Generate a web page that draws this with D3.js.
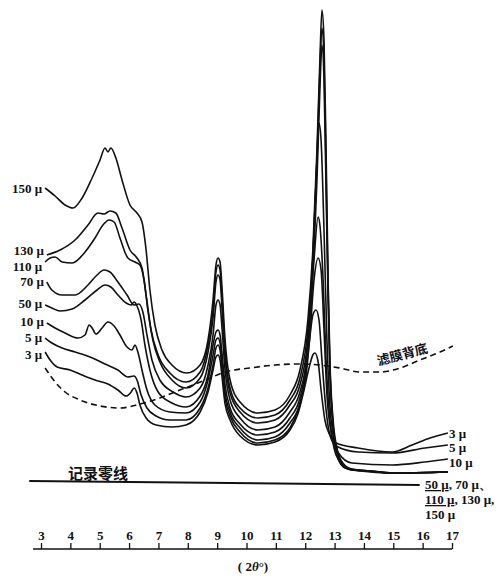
<!DOCTYPE html>
<html>
<head>
<meta charset="utf-8">
<script src="https://d3js.org/d3.v7.min.js"></script>
<style>
  body { margin: 0; background: #fff; }
  .curve { fill: none; stroke: #111; stroke-width: 1.6px; }
  .bg { fill: none; stroke: #111; stroke-width: 1.6px; stroke-dasharray: 6,4; }
  .lbl { font-family: "Liberation Serif", "DejaVu Serif", serif; font-size: 13px; font-weight: bold; fill: #111; }
  .cjk { font-family: "Noto Sans CJK SC", sans-serif; font-weight: bold; fill: #111; }
</style>
</head>
<body>
<script>
// 2theta ticks
const ticks = [3, 4, 5, 6, 7, 8, 9, 10, 11, 12, 13, 14, 15, 16, 17];

// traces: [2theta, relative intensity above the zero line]
const s150 = [[3.14,295],[3.48,287],[3.82,278],[4.09,275],[4.40,285],[4.74,305],[5.01,323],[5.18,335],[5.28,331],[5.38,335],[5.55,325],[5.76,303],[6.03,278],[6.27,270],[6.44,261],[6.58,233],[6.71,193],[6.88,158],[7.12,133],[7.46,118],[7.97,110],[8.42,118],[8.69,143],[8.86,183],[8.96,218],[9.03,225],[9.10,221],[9.17,193],[9.27,143],[9.44,103],[9.78,81],[10.39,70],[10.97,73],[11.48,88],[11.82,113],[12.09,163],[12.26,233],[12.40,333],[12.50,423],[12.57,473],[12.64,443],[12.71,333],[12.78,203],[12.84,123],[12.95,63],[13.08,35],[13.28,20],[13.59,14],[14.21,12],[14.96,10],[16.86,11]];
const s130 = [[3.20,228],[3.65,233],[4.16,243],[4.60,258],[4.94,270],[5.15,269],[5.35,272],[5.55,270],[5.76,255],[6.03,233],[6.27,225],[6.44,215],[6.58,188],[6.75,153],[6.99,128],[7.39,110],[7.94,101],[8.42,111],[8.69,138],[8.86,173],[8.96,211],[9.03,218],[9.10,213],[9.17,183],[9.27,133],[9.44,95],[9.78,75],[10.39,65],[10.97,68],[11.48,83],[11.82,105],[12.09,153],[12.26,223],[12.40,323],[12.50,413],[12.57,455],[12.64,423],[12.71,313],[12.78,193],[12.84,118],[12.95,58],[13.08,33],[13.28,18],[13.59,13],[14.21,12],[14.96,10],[16.86,11]];
const s110 = [[3.14,221],[3.31,225],[3.48,226],[3.72,221],[4.06,220],[4.50,231],[4.84,245],[5.11,258],[5.32,263],[5.49,261],[5.69,245],[5.96,225],[6.20,221],[6.37,218],[6.51,203],[6.64,173],[6.81,143],[7.05,121],[7.46,103],[7.94,95],[8.42,105],[8.69,131],[8.86,165],[8.96,201],[9.03,208],[9.10,203],[9.17,173],[9.27,125],[9.44,90],[9.78,71],[10.39,60],[10.97,63],[11.48,78],[11.82,98],[12.09,143],[12.26,213],[12.40,303],[12.50,393],[12.57,438],[12.64,403],[12.71,293],[12.78,183],[12.84,113],[12.95,55],[13.08,31],[13.28,17],[13.59,13],[14.21,12],[14.96,10],[16.86,11]];
const s70 = [[3.20,201],[3.37,193],[3.72,188],[4.16,188],[4.60,198],[4.91,208],[5.15,213],[5.35,211],[5.62,201],[5.93,188],[6.17,178],[6.33,179],[6.47,171],[6.61,148],[6.78,123],[7.05,103],[7.50,91],[7.94,86],[8.42,95],[8.69,118],[8.86,148],[8.96,178],[9.03,183],[9.10,178],[9.17,153],[9.27,113],[9.44,83],[9.78,65],[10.39,53],[10.97,56],[11.48,71],[11.82,91],[12.06,128],[12.20,183],[12.30,253],[12.40,323],[12.47,360],[12.54,343],[12.64,253],[12.74,143],[12.84,78],[12.98,43],[13.11,25],[13.36,15],[13.80,13],[14.96,10],[16.86,11]];
const s50 = [[3.14,178],[3.37,175],[3.65,172],[4.06,174],[4.50,183],[4.91,193],[5.18,198],[5.38,196],[5.62,188],[5.90,180],[6.07,178],[6.17,181],[6.27,177],[6.41,163],[6.54,138],[6.71,113],[6.99,91],[7.46,80],[7.94,76],[8.42,87],[8.69,108],[8.86,138],[8.96,151],[9.03,153],[9.10,148],[9.17,128],[9.27,98],[9.44,75],[9.78,59],[10.39,48],[10.97,51],[11.48,65],[11.82,85],[12.03,118],[12.16,163],[12.30,223],[12.44,266],[12.50,258],[12.61,203],[12.71,123],[12.84,63],[12.98,35],[13.18,21],[13.46,14],[13.87,12],[14.96,10],[16.86,11]];
const s10 = [[3.20,160],[3.48,155],[3.82,150],[4.26,145],[4.50,148],[4.64,158],[4.74,155],[4.87,149],[5.08,155],[5.28,161],[5.49,157],[5.69,148],[5.93,136],[6.10,133],[6.20,138],[6.30,131],[6.44,113],[6.61,93],[6.88,78],[7.39,71],[7.94,70],[8.42,81],[8.69,103],[8.86,128],[8.96,143],[9.03,145],[9.10,140],[9.17,121],[9.27,91],[9.44,71],[9.78,55],[10.39,43],[10.97,46],[11.48,60],[11.82,79],[12.03,108],[12.16,148],[12.30,203],[12.44,225],[12.54,213],[12.64,153],[12.74,88],[12.88,51],[13.11,31],[13.59,20],[14.96,18],[16.08,21],[16.86,24]];
const s5 = [[3.14,145],[3.37,140],[3.72,135],[4.16,131],[4.67,126],[5.18,119],[5.62,113],[5.96,106],[6.17,107],[6.27,103],[6.41,88],[6.61,75],[6.92,67],[7.39,63],[7.94,63],[8.42,75],[8.69,95],[8.86,118],[8.96,135],[9.03,138],[9.10,133],[9.17,113],[9.27,85],[9.44,67],[9.78,51],[10.39,40],[10.97,43],[11.48,55],[11.75,73],[11.96,98],[12.13,138],[12.26,168],[12.37,173],[12.47,163],[12.57,123],[12.71,73],[12.84,48],[13.05,37],[13.80,31],[14.96,30],[16.08,35],[16.86,38]];
const s3 = [[3.14,131],[3.31,123],[3.55,116],[3.99,113],[4.40,108],[4.84,103],[5.28,99],[5.62,93],[5.90,87],[6.07,91],[6.17,95],[6.27,90],[6.37,78],[6.58,65],[6.92,58],[7.46,56],[7.94,58],[8.42,71],[8.69,91],[8.86,113],[8.96,126],[9.03,128],[9.10,123],[9.17,105],[9.27,79],[9.44,63],[9.78,47],[10.39,38],[10.97,41],[11.48,53],[11.75,69],[11.96,93],[12.13,115],[12.26,128],[12.33,130],[12.44,121],[12.54,93],[12.67,63],[12.84,48],[13.05,40],[13.80,35],[14.96,31],[15.64,38],[16.25,45],[16.86,50]];
// filter background (dashed)
const filterBg = [[3.14,115],[3.48,101],[3.82,91],[4.33,83],[5.01,77],[5.69,75],[6.37,79],[7.05,85],[7.73,93],[8.18,98],[8.76,105],[9.27,111],[10.12,115],[10.97,118],[11.82,119],[12.50,118],[13.18,115],[13.87,111],[14.55,111],[15.23,115],[15.91,123],[16.59,131],[17.03,137]];
// recorder zero line
const zeroLine = [[2.6,2],[15.9,-2]];

const traces = [
  {name: "150 μ", data: s150, end: false, ls: 0,  rs: 0},
  {name: "130 μ", data: s130, end: false, ls: -5, rs: 0},
  {name: "110 μ", data: s110, end: false, ls: 4,  rs: 0},
  {name: "70 μ",  data: s70,  end: false, ls: -1, rs: 0},
  {name: "50 μ",  data: s50,  end: false, ls: -2, rs: 0},
  {name: "10 μ",  data: s10,  end: true,  ls: -2, rs: 3},
  {name: "5 μ",   data: s5,   end: true,  ls: -1, rs: 2},
  {name: "3 μ",   data: s3,   end: true,  ls: 2,  rs: 0}
];

const W = 503, H = 576;
const x = d3.scaleLinear().domain([3, 17]).range([41, 452]);
const y = d3.scaleLinear().domain([0, 480]).range([483, 3]);

const svg = d3.select("body").append("svg")
  .attr("width", W).attr("height", H);
svg.append("rect").attr("width", W).attr("height", H).attr("fill", "#fff");

const line = d3.line().x(d => x(d[0])).y(d => y(d[1])).curve(d3.curveMonotoneX);

// curves
svg.selectAll("path.curve").data(traces).join("path")
  .attr("class", "curve")
  .attr("d", d => line(d.data));

// background of filter
svg.append("path").attr("class", "bg").attr("d", line(filterBg));
svg.append("text").attr("class", "cjk")
  .attr("font-size", 13)
  .attr("transform", "translate(" + x(15.35) + "," + y(124) + ") rotate(-15)")
  .attr("text-anchor", "middle")
  .text("滤膜背底");

// zero line
svg.append("path")
  .attr("d", d3.line().x(d => x(d[0])).y(d => y(d[1]))(zeroLine))
  .attr("stroke", "#111").attr("stroke-width", 2).attr("fill", "none");
svg.append("text").attr("class", "cjk")
  .attr("font-size", 15)
  .attr("x", 68).attr("y", 479)
  .text("记录零线");

// left labels
svg.selectAll("text.left").data(traces).join("text")
  .attr("class", "lbl left")
  .attr("text-anchor", "end")
  .attr("x", d => x(d.data[0][0]) - 3)
  .attr("y", d => y(d.data[0][1]) + d.ls)
  .attr("dy", "0.35em")
  .text(d => d.name);

// right labels
svg.selectAll("text.right").data(traces.filter(d => d.end)).join("text")
  .attr("class", "lbl right")
  .attr("font-size", 12)
  .attr("x", d => x(d.data[d.data.length - 1][0]) + 1)
  .attr("y", d => y(d.data[d.data.length - 1][1]) + d.rs)
  .attr("dy", "0.4em")
  .text(d => d.name);

const grp = svg.append("text").attr("class", "lbl").attr("x", 425).attr("y", 489);
grp.append("tspan").attr("text-decoration", "underline").text("50 μ");
grp.append("tspan").text(", 70 μ、");
const grp2 = svg.append("text").attr("class", "lbl").attr("x", 425).attr("y", 504);
grp2.append("tspan").attr("text-decoration", "underline").text("110 μ");
grp2.append("tspan").text(", 130 μ,");
svg.append("text").attr("class", "lbl").attr("x", 425).attr("y", 519).text("150 μ");

// 2theta axis
const axY = 549;
svg.append("line")
  .attr("x1", x(2.73)).attr("x2", x(17))
  .attr("y1", axY).attr("y2", axY)
  .attr("stroke", "#111").attr("stroke-width", 1.5);
const ax = svg.append("g")
  .attr("transform", "translate(0," + axY + ")")
  .call(d3.axisTop(x).tickValues(ticks).tickSize(6).tickSizeOuter(0).tickPadding(3)
    .tickFormat(d3.format("d")));
ax.select(".domain").remove();
ax.selectAll("line").attr("stroke", "#111").attr("stroke-width", 1.3);
ax.selectAll("text").attr("class", "lbl").attr("font-size", 14).attr("fill", "#111");

const xt = svg.append("text").attr("class", "lbl")
  .attr("x", 253).attr("y", 571).attr("text-anchor", "middle");
xt.append("tspan").text("( 2");
xt.append("tspan").attr("font-style", "italic").text("θ");
xt.append("tspan").text("°)");
</script>
</body>
</html>
